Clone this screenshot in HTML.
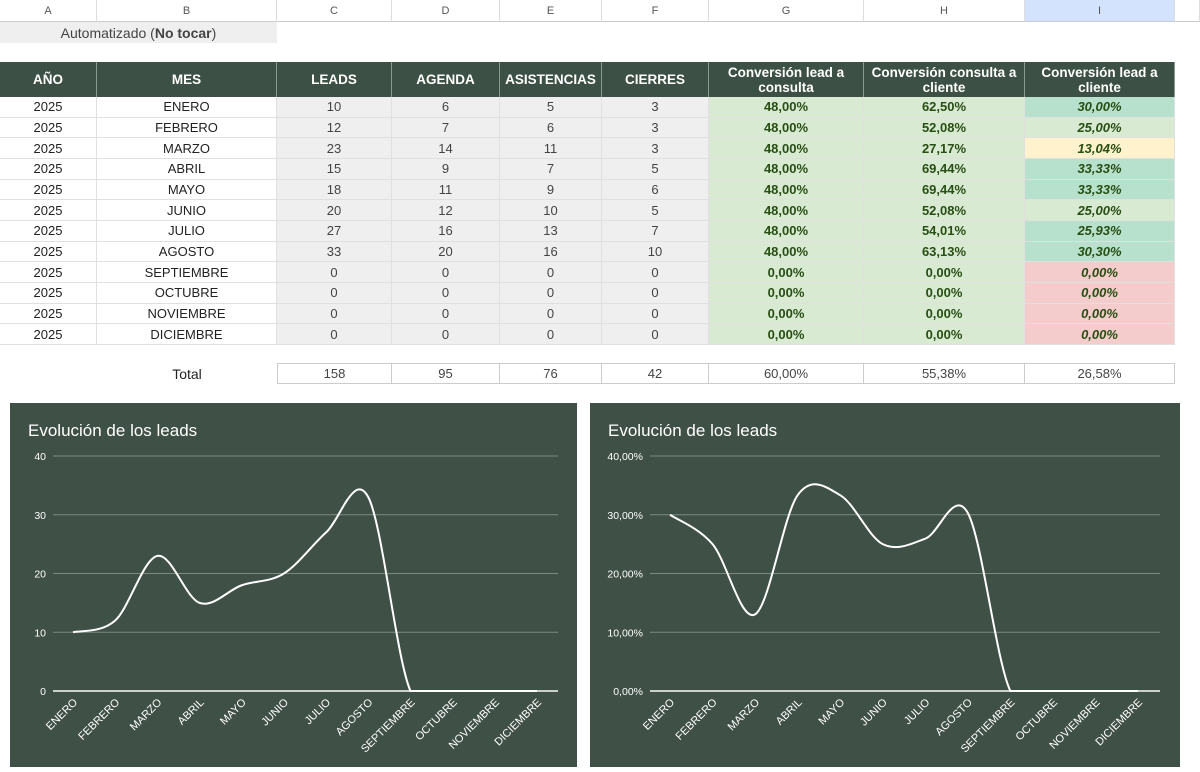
<!DOCTYPE html>
<html><head><meta charset="utf-8">
<style>
*{margin:0;padding:0;box-sizing:border-box}
body{width:1200px;height:772px;background:#fff;font-family:"Liberation Sans",Arial,sans-serif;position:relative;overflow:hidden;color:#222}
.c{position:absolute;display:flex;align-items:center;justify-content:center;text-align:center;font-size:13px}
.h{font-size:11px;color:#555;border-right:1px solid #ddd;border-bottom:1px solid #ccc;background:#fff}
.th{background:#3c5045;color:#fff;font-weight:bold;font-size:13.5px;line-height:15px;border-right:1px solid #8a9a90}
.d{border-bottom:1px solid #e0e0e0;border-right:1px solid #e0e0e0}
.g{background:#efefef}
.gr{background:#d9ead3;font-weight:bold;color:#274e13}
.it{font-style:italic}
.t{border:1px solid #ccc;border-left:none;color:#444}
.chart{position:absolute;background:#3f5047;top:403px;height:364px}
</style></head><body>
<div id="root"></div>
<script>
const cols=[0,97,277,392,500,602,709,864,1025,1175];
const L=['A','B','C','D','E','F','G','H','I'];
let h='';
function cell(x1,x2,y1,y2,cls,txt,style){h+=`<div class="c ${cls}" style="left:${x1}px;top:${y1}px;width:${x2-x1}px;height:${y2-y1}px;${style||''}">${txt}</div>`;}
for(let i=0;i<9;i++)cell(cols[i],cols[i+1],0,22,'h',L[i],i==8?'background:#d3e3fd':'');
cell(1175,1200,0,22,'h','');
cell(0,277,22,43,'','Automatizado (<b>No tocar</b>)','background:#efefef;color:#444;font-size:14px');
const hd=['AÑO','MES','LEADS','AGENDA','ASISTENCIAS','CIERRES','Conversión lead a consulta','Conversión consulta a cliente','Conversión lead a cliente'];
for(let i=0;i<9;i++)cell(cols[i],cols[i+1],62,97,'th',hd[i]);
const m=['ENERO','FEBRERO','MARZO','ABRIL','MAYO','JUNIO','JULIO','AGOSTO','SEPTIEMBRE','OCTUBRE','NOVIEMBRE','DICIEMBRE'];
const v=[[10,6,5,3],[12,7,6,3],[23,14,11,3],[15,9,7,5],[18,11,9,6],[20,12,10,5],[27,16,13,7],[33,20,16,10]];
const H=['62,50%','52,08%','27,17%','69,44%','69,44%','52,08%','54,01%','63,13%'];
const I=['30,00%','25,00%','13,04%','33,33%','33,33%','25,00%','25,93%','30,30%'];
const Ic=['#b7e1cd','#d9ead3','#fff2cc','#b7e1cd','#b7e1cd','#d9ead3','#b7e1cd','#b7e1cd'];
for(let r=0;r<12;r++){
 const y1=97+r*20.67,y2=97+(r+1)*20.67;
 const row=v[r]||[0,0,0,0];
 cell(0,97,y1,y2,'d','2025');cell(97,277,y1,y2,'d',m[r]);
 for(let j=0;j<4;j++)cell(cols[j+2],cols[j+3],y1,y2,'d g',row[j],'color:#444');
 cell(709,864,y1,y2,'d gr',r<8?'48,00%':'0,00%');
 cell(864,1025,y1,y2,'d gr',r<8?H[r]:'0,00%');
 cell(1025,1175,y1,y2,'d gr it',r<8?I[r]:'0,00%','background:'+(r<8?Ic[r]:'#f4cccc'));
}
cell(97,277,363,384,'','Total','font-size:14px');
const tot=['158','95','76','42','60,00%','55,38%','26,58%'];
for(let j=0;j<7;j++)cell(cols[j+2],cols[j+3],363,384,'t',tot[j],j==0?'border-left:1px solid #ccc':'');
function chart(x0,w,px1,px2,lx1,lx2,vals,max,fmt){
 let s=`<div class="chart" style="left:${x0}px;width:${w}px"></div><svg style="position:absolute;left:0;top:0" width="1200" height="772" font-family="Liberation Sans,Arial,sans-serif">`;
 s+=`<text x="${x0+18}" y="436" fill="#fff" font-size="17">Evolución de los leads</text>`;
 for(let k=0;k<5;k++){const y=691-k*58.75;s+=`<line x1="${px1}" x2="${px2}" y1="${y}" y2="${y}" stroke="${k?'#7b8a80':'#c9d0cb'}" stroke-width="${k?1:2}"/><text x="${px1-7}" y="${y+4}" fill="#fff" font-size="10.5" text-anchor="end">${fmt(max*k/4)}</text>`;}
 const sp=(lx2-lx1)/11,P=vals.map((q,i)=>[lx1+i*sp,691-q/max*235]);
 const cl=y=>Math.min(y,691);
 let d=`M${P[0][0]},${P[0][1]}`;
 for(let i=0;i<P.length-1;i++){const a=P[i-1]||P[i],b=P[i],c=P[i+1],e=P[i+2]||c;
  d+=` C${b[0]+(c[0]-a[0])/6},${cl(b[1]+(c[1]-a[1])/6)} ${c[0]-(e[0]-b[0])/6},${cl(c[1]-(e[1]-b[1])/6)} ${c[0]},${c[1]}`;}
 s+=`<path d="${d}" fill="none" stroke="#fff" stroke-width="2"/>`;
 P.forEach((p,i)=>{s+=`<text transform="translate(${p[0]+5},${703}) rotate(-45)" fill="#fff" font-size="11" text-anchor="end">${m[i]}</text>`;});
 return s+'</svg>';
}
h+=chart(10,567,53,558,73,537,[10,12,23,15,18,20,27,33,0,0,0,0],40,x=>x);
h+=chart(590,590,650,1160,670,1138,[30,25,13.04,33.33,33.33,25,25.93,30.3,0,0,0,0],40,x=>x.toFixed(2).replace('.',',')+'%');
document.getElementById('root').innerHTML=h;
</script>
</body></html>
